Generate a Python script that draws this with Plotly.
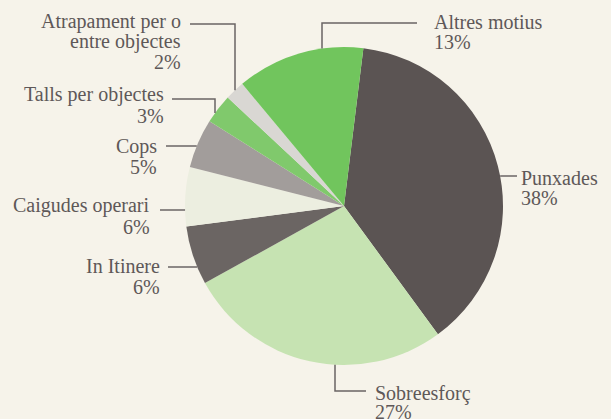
import math
import plotly.graph_objects as go

# ---- data ----
categories = ["Punxades", "Sobreesforç", "In Itinere", "Caigudes operari",
              "Cops", "Talls per objectes", "Atrapament per o entre objectes", "Altres motius"]
values = [38, 27, 6, 6, 5, 3, 2, 13]
label_lines = [["Punxades"], ["Sobreesforç"], ["In Itinere"], ["Caigudes operari"],
               ["Cops"], ["Talls per objectes"], ["Atrapament per o", "entre objectes"],
               ["Altres motius"]]
colors = ["#5b5453", "#c6e3b2", "#6b6563", "#eceee0", "#a29d9b", "#80c96c", "#d9d7d3", "#71c55d"]

# ---- layout geometry (pixels) ----
W, H = 611, 419
CX, CY, R = 344, 206, 159
BG = "#f6f3ea"
TXT = "#5e5858"
FONT = "Liberation Serif"
FS = 20

def px(x):
    return x / W

def py(y):
    return 1 - y / H

# label placement: (anchor side, text x, first baseline, line spacing,
#                   leader start (x,y), leader kind, leader param)
placement = {
    "Punxades": ("left", 519, 184, 20, (517, 176), "h", 176),
    "Sobreesforç": ("left", 373, 399, 19, (366, 391), "elbow_bottom", 335),
    "In Itinere": ("right", 162, 272, 21, (168, 267), "h", 267),
    "Caigudes operari": ("right", 152, 211, 22, (160, 210), "h", 210),
    "Cops": ("right", 159, 152, 21, (166, 146), "h", 146),
    "Talls per objectes": ("right", 166, 100, 22, (172, 99), "elbow_top", 215),
    "Atrapament per o entre objectes": ("right", 183, 28, 20, (190, 24), "elbow_top", 235),
    "Altres motius": ("left", 432, 28, 20, (417, 23), "elbow_top", 322),
}

fig = go.Figure(go.Pie(
    labels=categories,
    values=values,
    sort=False,
    direction="clockwise",
    rotation=7,
    marker=dict(colors=colors, line=dict(width=0)),
    textinfo="none",
    hoverinfo="label+percent",
    showlegend=False,
    domain=dict(x=[px(CX - R), px(CX + R)], y=[py(CY + R), py(CY - R)]),
))

annotations = []
shapes = []
line_style = dict(color="#6a6464", width=1.5)
for cat, val, lines in zip(categories, values, label_lines):
    side, tx, base, sp, (sx, sy), kind, param = placement[cat]
    all_lines = lines + [f"{val}%"]
    for i, t in enumerate(all_lines):
        b = base + i * sp
        annotations.append(dict(
            x=px(tx), y=py(b - 6), xref="paper", yref="paper",
            text=t, showarrow=False,
            xanchor="left" if side == "left" else "right", yanchor="middle",
            font=dict(family=FONT, size=FS, color=TXT),
        ))
    if kind == "h":
        dx = math.sqrt(R * R - (param - CY) ** 2)
        ex = CX + dx if sx > CX else CX - dx
        shapes.append(dict(type="line", xref="paper", yref="paper",
                           x0=px(sx), y0=py(sy), x1=px(ex), y1=py(param), line=line_style))
    else:
        dy = math.sqrt(R * R - (param - CX) ** 2)
        ey = CY - dy if kind == "elbow_top" else CY + dy
        path = f"M {px(sx)} {py(sy)} L {px(param)} {py(sy)} L {px(param)} {py(ey)}"
        shapes.append(dict(type="path", xref="paper", yref="paper", path=path, line=line_style))

fig.update_layout(
    width=W, height=H,
    margin=dict(l=0, r=0, t=0, b=0),
    paper_bgcolor=BG, plot_bgcolor=BG,
    font=dict(family=FONT, color=TXT),
    annotations=annotations, shapes=shapes,
)

fig.write_html("out.html", config={"displayModeBar": False},
               post_script="document.body.style.margin='0';document.body.style.background='%s';" % BG)
